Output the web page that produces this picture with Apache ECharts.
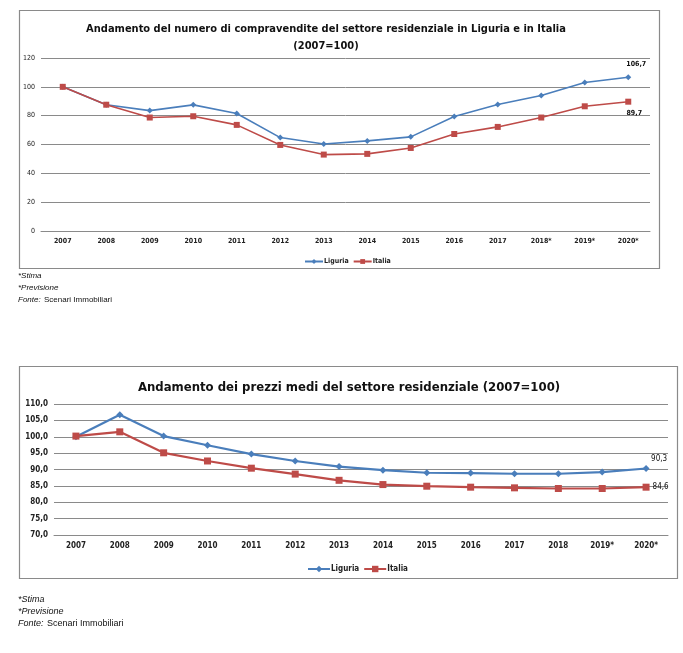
<!DOCTYPE html>
<html>
<head>
<meta charset="utf-8">
<script src="https://cdn.jsdelivr.net/npm/echarts@6/dist/echarts.min.js"></script>
<style>
  html, body { margin: 0; padding: 0; background: #fff; }
  #chart { width: 683px; height: 653px; }
</style>
</head>
<body>
<div id="chart"></div>
<script>
// dati
const anni1 = ['2007', '2008', '2009', '2010', '2011', '2012', '2013', '2014', '2015', '2016', '2017', '2018*', '2019*', '2020*']
const compravLiguria = [100, 87.6, 83.5, 87.5, 81.5, 64.8, 60.4, 62.5, 65.3, 79.4, 87.7, 94, 103, 106.7]
const compravItalia = [100, 87.6, 78.7, 79.6, 73.6, 59.7, 53, 53.5, 57.6, 67.3, 72.2, 78.7, 86.5, 89.7]

const anni2 = ['2007', '2008', '2009', '2010', '2011', '2012', '2013', '2014', '2015', '2016', '2017', '2018', '2019*', '2020*']
const prezziLiguria = [100, 106.7, 100.2, 97.4, 94.7, 92.6, 90.9, 89.8, 89.0, 88.9, 88.7, 88.7, 89.2, 90.3]
const prezziItalia = [100.2, 101.5, 95.1, 92.6, 90.4, 88.6, 86.7, 85.4, 84.9, 84.6, 84.4, 84.2, 84.2, 84.6]

const BLU = '#4A7EBB'
const ROSSO = '#BE4B48'
const GRIGIO = '#8a8a8a'
const FONT = '"Liberation Sans Narrow", "DejaVu Sans Condensed", "Liberation Sans", sans-serif'
const NOTE = '"Liberation Sans Narrow", "Liberation Sans", sans-serif'

const virgola = v => String(v).replace('.', ',')

// aggiunge l'etichetta solo all'ultimo punto
function conEtichettaFinale(valori, label) {
  return valori.map((v, i) => (i === valori.length - 1 ? { value: v, label: Object.assign({ show: true }, label) } : v))
}

const chart = echarts.init(document.getElementById('chart'))

const assiComuni = {
  axisTick: { show: false },
  axisLine: { show: true, lineStyle: { color: GRIGIO, width: 1 } },
  splitLine: { show: false }
}

chart.setOption({
  animation: false,
  textStyle: { fontFamily: FONT },
  title: [
    {
      text: 'Andamento del numero di compravendite del settore residenziale in Liguria e in Italia\n(2007=100)',
      left: 321, top: 16, textAlign: 'center',
      textStyle: { fontSize: 11, fontWeight: 'bold', color: '#111', lineHeight: 17, fontFamily: FONT }
    },
    {
      text: 'Andamento dei prezzi medi del settore residenziale (2007=100)',
      left: 344, top: 376, textAlign: 'center',
      textStyle: { fontSize: 13, fontWeight: 'bold', color: '#111', fontFamily: FONT }
    }
  ],
  legend: [
    {
      data: ['Liguria', 'Italia'], seriesIndex: [0, 1],
      left: 299, top: 253,
      itemWidth: 18, itemHeight: 6, itemGap: 4,
      textStyle: { fontSize: 7, fontWeight: 'bold', color: '#222', padding: [0, 0, 0, -4] }
    },
    {
      data: ['Liguria', 'Italia'],
      left: 302, top: 560,
      itemWidth: 22, itemHeight: 8, itemGap: 4,
      textStyle: { fontSize: 8, fontWeight: 'bold', color: '#222', padding: [0, 0, 0, -4] }
    }
  ],
  grid: [
    { left: 41, right: 33, top: 58, height: 173 },
    { left: 54, right: 15, top: 404, height: 131 }
  ],
  xAxis: [
    Object.assign({}, assiComuni, {
      type: 'category', gridIndex: 0, data: anni1, boundaryGap: true,
      axisLabel: { fontSize: 7, fontWeight: 'bold', color: '#222', margin: 7, interval: 0 }
    }),
    Object.assign({}, assiComuni, {
      type: 'category', gridIndex: 1, data: anni2, boundaryGap: true,
      axisLabel: { fontSize: 8, fontWeight: 'bold', color: '#222', margin: 7, interval: 0 }
    })
  ],
  yAxis: [
    {
      type: 'value', gridIndex: 0, min: 0, max: 120, interval: 20,
      axisLine: { show: false }, axisTick: { show: false },
      splitLine: { lineStyle: { color: GRIGIO, width: 1 } },
      axisLabel: { fontSize: 7, color: '#222', margin: 6 }
    },
    {
      type: 'value', gridIndex: 1, min: 70, max: 110, interval: 5,
      axisLine: { show: false }, axisTick: { show: false },
      splitLine: { lineStyle: { color: GRIGIO, width: 1 } },
      axisLabel: { fontSize: 8, fontWeight: 'bold', color: '#222', margin: 6, formatter: v => v.toFixed(1).replace('.', ',') }
    }
  ],
  series: [
    {
      name: 'Liguria', type: 'line', xAxisIndex: 0, yAxisIndex: 0,
      data: conEtichettaFinale(compravLiguria, { position: 'top', offset: [8, -1], fontSize: 7, fontWeight: 'bold', color: '#111', formatter: p => virgola(p.value) }),
      symbol: 'diamond', symbolSize: 6, showAllSymbol: true,
      lineStyle: { color: BLU, width: 1.6 }, itemStyle: { color: BLU }
    },
    {
      name: 'Italia', type: 'line', xAxisIndex: 0, yAxisIndex: 0,
      data: conEtichettaFinale(compravItalia, { position: 'bottom', offset: [6, 0], fontSize: 7, fontWeight: 'bold', color: '#111', formatter: p => virgola(p.value) }),
      symbol: 'rect', symbolSize: 6, showAllSymbol: true,
      lineStyle: { color: ROSSO, width: 1.6 }, itemStyle: { color: ROSSO }
    },
    {
      name: 'Liguria', type: 'line', xAxisIndex: 1, yAxisIndex: 1,
      data: conEtichettaFinale(prezziLiguria, { position: 'top', offset: [13, 3], fontSize: 8, color: '#111', formatter: p => virgola(p.value) }),
      symbol: 'diamond', symbolSize: 7, showAllSymbol: true,
      lineStyle: { color: BLU, width: 2.2 }, itemStyle: { color: BLU }
    },
    {
      name: 'Italia', type: 'line', xAxisIndex: 1, yAxisIndex: 1,
      data: conEtichettaFinale(prezziItalia, { position: 'right', offset: [-2, 0], fontSize: 8, color: '#111', formatter: p => virgola(p.value) }),
      symbol: 'rect', symbolSize: 7, showAllSymbol: true,
      lineStyle: { color: ROSSO, width: 2.2 }, itemStyle: { color: ROSSO }
    }
  ],
  graphic: [
    { type: 'rect', shape: { x: 19.5, y: 10.5, width: 640, height: 258 }, style: { fill: 'none', stroke: GRIGIO, lineWidth: 1.2 }, silent: true },
    { type: 'rect', shape: { x: 19.5, y: 366.5, width: 658, height: 212 }, style: { fill: 'none', stroke: GRIGIO, lineWidth: 1.2 }, silent: true },
    { type: 'text', left: 18, top: 272, style: { text: '*Stima', font: 'italic 8px ' + NOTE, fill: '#111' } },
    { type: 'text', left: 18, top: 284, style: { text: '*Previsione', font: 'italic 8px ' + NOTE, fill: '#111' } },
    { type: 'text', left: 18, top: 296, style: { text: 'Fonte:', font: 'italic 8px ' + NOTE, fill: '#111' } },
    { type: 'text', left: 44, top: 296, style: { text: 'Scenari Immobiliari', font: '8px ' + NOTE, fill: '#111' } },
    { type: 'text', left: 18, top: 595, style: { text: '*Stima', font: 'italic 9px ' + NOTE, fill: '#111' } },
    { type: 'text', left: 18, top: 607, style: { text: '*Previsione', font: 'italic 9px ' + NOTE, fill: '#111' } },
    { type: 'text', left: 18, top: 619, style: { text: 'Fonte:', font: 'italic 9px ' + NOTE, fill: '#111' } },
    { type: 'text', left: 47, top: 619, style: { text: 'Scenari Immobiliari', font: '9px ' + NOTE, fill: '#111' } }
  ]
})
</script>
</body>
</html>
